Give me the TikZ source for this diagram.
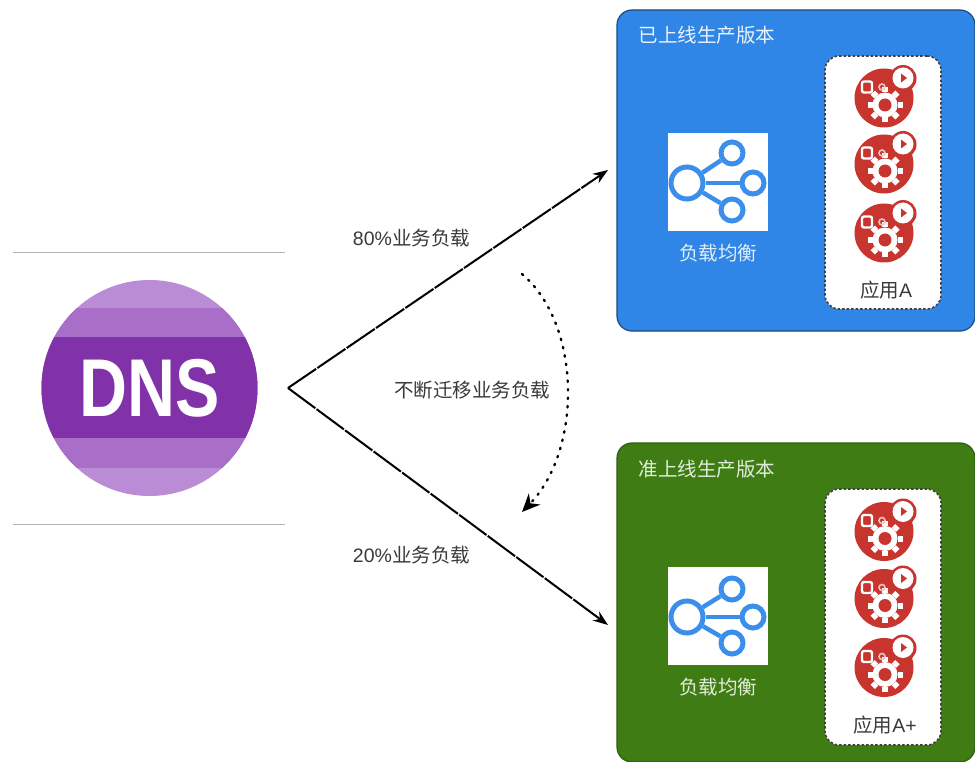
\documentclass[tikz,border=0pt]{standalone}
\usepackage{fontspec}
\setmainfont{Liberation Sans}
\newfontfamily\cjk{Noto Sans CJK SC}
\usetikzlibrary{arrows.meta}
\definecolor{bluepanel}{HTML}{2F86E6}
\definecolor{greenpanel}{HTML}{3F7D14}
\definecolor{iconblue}{HTML}{3B8FEA}
\definecolor{appred}{HTML}{C8352F}
\definecolor{dnslight}{HTML}{BA8CD6}
\definecolor{dnsmid}{HTML}{A96FC8}
\definecolor{dnsdark}{HTML}{8232A8}
\definecolor{labelgrey}{HTML}{3A3A3A}
\tikzset{
  x=1pt,y=-1pt,
  panel/.style={rounded corners=15pt,minimum width=358pt,inner sep=0pt,line width=1.2pt},
  appbox/.style={draw=black!75,fill=white,rounded corners=14pt,dash pattern=on 2.5pt off 2pt,line width=1.6pt,minimum width=116pt,inner sep=0pt},
  lbbox/.style={fill=white,minimum width=100pt,minimum height=98pt,inner sep=0pt},
  lbring/.style={circle,draw=iconblue,line width=5pt,fill=white,inner sep=0pt},
  lblink/.style={draw=iconblue,line width=4.5pt},
  txt/.style={font=\fontsize{19.5}{22}\selectfont,inner sep=0pt},
  flow/.style={draw=black,line width=2pt,dash pattern=on 34pt off 1.5pt,-{Stealth[length=15pt,width=11pt]}},
  move/.style={draw=black,line width=2.4pt,line cap=round,dash pattern=on 1.5pt off 7pt,-{Stealth[length=18pt,width=16pt]}},
  rule/.style={draw=black!30,line width=.8pt},
  appicon/.pic={
    \fill[appred] (0,1.5) circle[radius=29.5];
    \fill[appred] (19,-18) circle[radius=13.5];
    \fill[white] (19,-18.5) circle[radius=10.5];
    \fill[appred] (17,-23) -- (23,-18.5) -- (17,-14) -- cycle;
    \foreach \a in {0,45,...,315}{
      \fill[white,rotate around={\a:(1,8.5)}] (-2,-9) rectangle (4,-4);
    }
    \fill[white] (1,8.5) circle[radius=12.5];
    \fill[appred] (1,8.5) circle[radius=6.5];
    \draw[white,line width=2.4pt,rounded corners=2pt] (-22,-15) rectangle (-12,-4);
    \draw[white!70!appred,line width=1.6pt] (-2,-9.5) circle[radius=3];
  }
}
\begin{document}
\begin{tikzpicture}
\useasboundingbox (0,0) rectangle (975,762);
\fill[white] (0,0) rectangle (975,762);

% DNS badge
\draw[rule] (13,252) -- (285,252);
\draw[rule] (13,524) -- (285,524);
\begin{scope}
  \clip (149.5,388) circle[radius=108];
  \fill[dnslight] (40,280) rectangle (260,497);
  \fill[dnsmid] (40,308) rectangle (260,468);
  \fill[dnsdark] (40,337) rectangle (260,438);
\end{scope}
\node (dns) [text=white,inner sep=0pt,xscale=.81,font=\fontsize{82}{90}\selectfont\bfseries] at (150,388) {DNS};

% Blue panel
\node (bluep) [panel,draw=black!45!bluepanel,fill=bluepanel,minimum height=321pt] at (796,170.5) {};
\node (bluet) [txt,text=white!90!bluepanel] at (707,35) {\cjk 已上线生产版本};
\node (bluelb) [lbbox] at (718,182) {};
\node (bluelbt) [txt,text=white!85!bluepanel] at (718,253) {\cjk 负载均衡};
\node (blueapp) [appbox,minimum height=253pt] at (883,182.5) {};
\node (blueappt) [txt,text=labelgrey] at (886,290) {{\cjk 应用}A};

\node (b0) [lbring,minimum size=32pt] at (687,183) {};
\node (b1) [lbring,minimum size=22pt] at (732,153) {};
\node (b2) [lbring,minimum size=22pt] at (753,183) {};
\node (b3) [lbring,minimum size=22pt] at (732,210) {};
\draw[lblink] (b0) -- (b1);
\draw[lblink] (b0) -- (b2);
\draw[lblink] (b0) -- (b3);

\pic at (884,96.5) {appicon};
\pic at (884,162.5) {appicon};
\pic at (884,231.5) {appicon};

% Green panel
\node (greenp) [panel,draw=black!25!greenpanel,fill=greenpanel,minimum height=319pt] at (796,602.5) {};
\node (greent) [txt,text=white!85!greenpanel] at (707,469) {\cjk 准上线生产版本};
\node (greenlb) [lbbox] at (718,616) {};
\node (greenlbt) [txt,text=white!85!greenpanel] at (718,687) {\cjk 负载均衡};
\node (greenapp) [appbox,minimum height=256pt] at (883,617) {};
\node (greenappt) [txt,text=labelgrey] at (885,725) {{\cjk 应用}A+};

\node (g0) [lbring,minimum size=32pt] at (687,617) {};
\node (g1) [lbring,minimum size=22pt] at (732,589) {};
\node (g2) [lbring,minimum size=22pt] at (753,617) {};
\node (g3) [lbring,minimum size=22pt] at (732,643) {};
\draw[lblink] (g0) -- (g1);
\draw[lblink] (g0) -- (g2);
\draw[lblink] (g0) -- (g3);

\pic at (884,530) {appicon};
\pic at (884,597) {appicon};
\pic at (884,666) {appicon};

% Connectors
\coordinate (apex) at (288,388);
\coordinate (tiptop) at (608,170);
\coordinate (tipbot) at (608,625);
\coordinate (movefrom) at (522,274);
\coordinate (moveto) at (522,512);
\draw[flow] (apex) -- (tiptop);
\draw[flow] (apex) -- (tipbot);
\draw[move] (movefrom) .. controls (582,325) and (582,450) .. (moveto);

\node (l80) [txt,text=labelgrey] at (411.5,238) {80\%{\cjk 业务负载}};
\node (l20) [txt,text=labelgrey] at (411.5,555) {20\%{\cjk 业务负载}};
\node (lmove) [txt,text=labelgrey] at (472,390) {\cjk 不断迁移业务负载};
\end{tikzpicture}
\end{document}
